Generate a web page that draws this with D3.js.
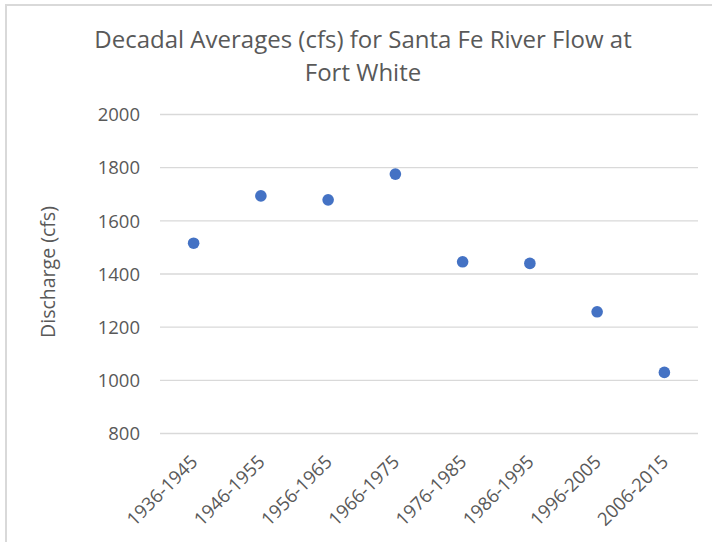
<!DOCTYPE html>
<html lang="en">
<head>
<meta charset="UTF-8">
<title>Santa Fe River decadal averages</title>
<style>
	body { margin: 0; background: #fff; }
	text { font-family: "Open Sans", sans-serif; fill: #595959; }
</style>
</head>
<body>
<svg id="cont" width="712" height="542">
	<rect x="6" y="5" width="720" height="560" fill="#fff" stroke="#d9d9d9" stroke-width="2"></rect>
	<g id="grid"></g>
	<g id="xaxis"></g>
	<g id="body"></g>
</svg>
<script src="https://cdn.jsdelivr.net/npm/d3@7"></script>
<script>
	let decades = ["1936-1945","1946-1955","1956-1965","1966-1975","1976-1985","1986-1995","1996-2005","2006-2015"]
	let discharge = [1514, 1692, 1677, 1774, 1444, 1438, 1256, 1028]
	let yTicks = [800, 1000, 1200, 1400, 1600, 1800, 2000]

	let svg = d3.select("#cont")

	let xscale = d3.scaleBand()
		.domain(decades)
		.range([160, 698])
		.padding(0)
	let yscale = d3.scaleLinear()
		.domain([800, 2000])
		.range([433, 114])

	// y axis with gridlines
	let yaxis = d3.axisLeft(yscale)
		.tickValues(yTicks)
		.tickFormat(d3.format("d"))
		.tickSize(-(698 - 160))
		.tickPadding(20)
	let yg = d3.select("#grid")
		.attr("transform", "translate(160,0)")
		.call(yaxis)
	yg.select(".domain").remove()
	yg.selectAll("line").attr("stroke", "#d9d9d9").attr("stroke-width", 1.3)
	yg.selectAll("text")
		.attr("font-size", 18.5)
		.attr("font-family", "Open Sans, sans-serif")
		.attr("fill", "#595959")
		.attr("dy", "0.36em")

	// x axis, rotated labels
	let xaxis = d3.axisBottom(xscale).tickSize(0)
	let xg = d3.select("#xaxis")
		.attr("transform", "translate(0,433)")
		.call(xaxis)
	xg.select(".domain").remove()
	xg.selectAll("text")
		.attr("x", 0).attr("y", 0).attr("dy", 0)
		.attr("font-size", 18.5)
		.attr("font-family", "Open Sans, sans-serif")
		.attr("fill", "#595959")
		.attr("text-anchor", "end")
		.attr("transform", "translate(5,30) rotate(-45)")

	// points
	d3.select("#body").selectAll("circle")
		.data(decades)
		.enter()
		.append("circle")
		.attr("cx", d => xscale(d) + xscale.bandwidth() / 2)
		.attr("cy", (d, i) => yscale(discharge[i]))
		.attr("r", 5.8)
		.attr("fill", "#4472c4")

	// title
	let title = svg.append("text")
		.attr("text-anchor", "middle")
		.attr("font-size", 24)
	title.append("tspan").attr("x", 363).attr("y", 48).text("Decadal Averages (cfs) for Santa Fe River Flow at")
	title.append("tspan").attr("x", 363).attr("y", 81).text("Fort White")

	// y axis title
	svg.append("text")
		.attr("text-anchor", "middle")
		.attr("font-size", 19.5)
		.attr("transform", "translate(55,272) rotate(-90)")
		.text("Discharge (cfs)")
</script>
</body>
</html>
